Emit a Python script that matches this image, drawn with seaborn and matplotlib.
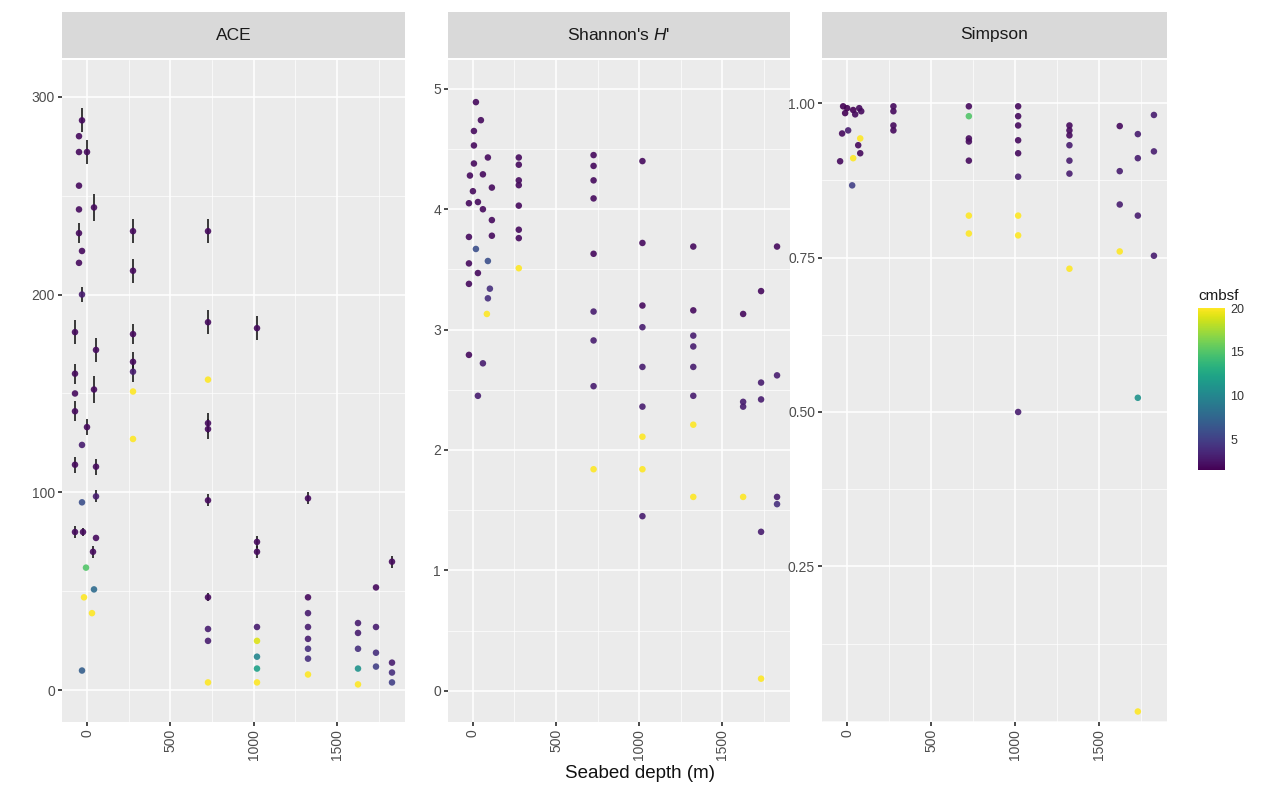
import numpy as np
import pandas as pd
import matplotlib
matplotlib.use('Agg')
import matplotlib.pyplot as plt
import seaborn as sns
from matplotlib.ticker import MultipleLocator, FixedLocator
from matplotlib.colors import Normalize
from matplotlib.cm import ScalarMappable

# ── DATA ─────────────────────────────────────────────────────
# ACE: depth (m), value, standard error, cmbsf
ace_depth = [-30, -48, -48, 0, -48, 42, -48, -48, -30, -48, -30, -72, 54, -72, -72, -72,
             42, 0, -30, -72, 54, -30, 54, -72, -24, 54, 36, -6, 42, 30, -18, -30,
             276, 276, 276, 276, 276, 276, 276,
             726, 726, 726, 726, 726, 726, 726, 726, 726, 726,
             1020, 1020, 1020, 1020, 1020, 1020, 1020, 1020,
             1326, 1326, 1326, 1326, 1326, 1326, 1326, 1326,
             1626, 1626, 1626, 1626, 1626,
             1734, 1734, 1734, 1734,
             1830, 1830, 1830, 1830]
ace_value = [288, 280, 272, 272, 255, 244, 243, 231, 222, 216, 200, 181, 172, 160, 150, 141,
             152, 133, 124, 114, 113, 95, 98, 80, 80, 77, 70, 62, 51, 39, 47, 10,
             232, 212, 180, 166, 161, 151, 127,
             232, 186, 157, 135, 132, 96, 47, 31, 25, 4,
             183, 75, 70, 32, 17, 11, 4, 25,
             97, 47, 39, 32, 26, 21, 16, 8,
             34, 29, 21, 11, 3,
             52, 32, 19, 12,
             65, 14, 9, 4]
ace_err = [6, 0, 0, 6, 0, 7, 0, 5, 0, 0, 4, 6, 6, 5, 0, 5,
           7, 4, 0, 4, 4, 0, 3, 3, 2, 0, 3, 0, 0, 0, 0, 0,
           6, 6, 5, 5, 5, 0, 0,
           6, 6, 0, 5, 5, 3, 2, 0, 0, 0,
           6, 3, 3, 0, 0, 0, 0, 0,
           3, 0, 0, 0, 0, 0, 0, 0,
           0, 0, 0, 0, 0,
           0, 0, 0, 0,
           3, 0, 0, 0]
ace_cmbsf = [2, 2, 2, 2, 2, 2, 2, 2, 2, 2, 3, 2, 2, 2, 2, 2,
             2, 2, 3, 2, 2, 6, 3, 2, 2, 2, 2, 15, 8, 20, 20, 7,
             2, 2, 2, 2, 3, 20, 20,
             2, 2, 20, 2, 2, 2, 2, 3, 3, 20,
             2, 2, 2, 3, 10, 12, 20, 19,
             2, 2, 3, 3, 3, 4, 4, 20,
             3, 3, 4, 11, 20,
             2, 3, 4, 5,
             2, 3, 4, 5]

# Shannon's H'
sha_depth = [18, 48, 6, 6, 6, 90, -18, 60, 0, 114, -24, 30, 60, 114, -24, 114,
             18, 90, -24, 30, -24, 102, 90, 84, -24, 60, 30,
             276, 276, 276, 276, 276, 276, 276, 276,
             726, 726, 726, 726, 726, 726, 726, 726, 726,
             1020, 1020, 1020, 1020, 1020, 1020, 1020, 1020, 1020,
             1326, 1326, 1326, 1326, 1326, 1326, 1326, 1326,
             1626, 1626, 1626, 1626,
             1734, 1734, 1734, 1734, 1734,
             1830, 1830, 1830, 1830]
sha_value = [4.89, 4.74, 4.65, 4.53, 4.38, 4.43, 4.28, 4.29, 4.15, 4.18, 4.05, 4.06, 4.00, 3.91, 3.77, 3.78,
             3.67, 3.57, 3.55, 3.47, 3.38, 3.34, 3.26, 3.13, 2.79, 2.72, 2.45,
             4.43, 4.37, 4.24, 4.20, 4.03, 3.83, 3.76, 3.51,
             4.45, 4.36, 4.24, 4.09, 3.63, 3.15, 2.91, 2.53, 1.84,
             4.40, 3.72, 3.20, 3.02, 2.69, 2.36, 2.11, 1.84, 1.45,
             3.69, 3.16, 2.95, 2.86, 2.69, 2.45, 2.21, 1.61,
             3.13, 2.40, 2.36, 1.61,
             3.32, 2.56, 2.42, 1.32, 0.10,
             3.69, 2.62, 1.61, 1.55]
sha_cmbsf = [2, 2, 2, 2, 2, 2, 2, 2, 2, 2, 2, 2, 2, 2, 2, 2,
             6, 6, 2, 2, 2, 4, 4, 20, 2, 3, 3,
             2, 2, 2, 2, 2, 2, 2, 20,
             2, 2, 2, 2, 2, 3, 3, 3, 20,
             2, 2, 2, 3, 3, 3, 20, 20, 3,
             2, 2, 3, 3, 3, 3, 20, 20,
             2, 3, 3, 20,
             2, 3, 3, 3, 20,
             2, 3, 3, 4]

# Simpson
sim_depth = [-24, 0, 36, 72, -12, 48, 84, -30, 6, -42, 66, 78, 30, 78, 36,
             276, 276, 276, 276,
             726, 726, 726, 726, 726, 726, 726,
             1020, 1020, 1020, 1020, 1020, 1020, 1020, 1020, 1020,
             1326, 1326, 1326, 1326, 1326, 1326, 1326,
             1626, 1626, 1626, 1626,
             1734, 1734, 1734, 1734, 1734,
             1830, 1830, 1830]
sim_value = [0.995, 0.992, 0.989, 0.992, 0.984, 0.982, 0.987, 0.951, 0.956, 0.906, 0.932, 0.919, 0.867, 0.943, 0.911,
             0.995, 0.987, 0.964, 0.956,
             0.995, 0.979, 0.943, 0.938, 0.907, 0.818, 0.789,
             0.995, 0.979, 0.964, 0.940, 0.919, 0.881, 0.818, 0.786, 0.500,
             0.964, 0.956, 0.948, 0.932, 0.907, 0.886, 0.732,
             0.963, 0.890, 0.836, 0.760,
             0.950, 0.911, 0.818, 0.523, 0.015,
             0.981, 0.922, 0.753]
sim_cmbsf = [1, 1, 1, 2, 1, 2, 2, 2, 3, 2, 2, 2, 5, 20, 20,
             2, 2, 2, 2,
             2, 15, 2, 2, 2, 20, 20,
             2, 2, 2, 2, 2, 3, 20, 20, 3,
             2, 2, 2, 3, 3, 3, 20,
             2, 3, 3, 20,
             3, 3, 3, 11, 20,
             3, 3, 3]

panels = [
    ('ACE', pd.DataFrame({'depth': ace_depth, 'value': ace_value, 'err': ace_err, 'cmbsf': ace_cmbsf}),
     (-16, 318.5), [0, 100, 200, 300], 50, '{:.0f}'),
    ("Shannon's $\\mathit{H}$'", pd.DataFrame({'depth': sha_depth, 'value': sha_value, 'cmbsf': sha_cmbsf}),
     (-0.26, 5.24), [0, 1, 2, 3, 4, 5], 0.5, '{:.0f}'),
    ('Simpson', pd.DataFrame({'depth': sim_depth, 'value': sim_value, 'cmbsf': sim_cmbsf}),
     (-0.002, 1.07), [0.25, 0.50, 0.75, 1.00], 0.125, '{:.2f}'),
]

# ── STYLE ────────────────────────────────────────────────────
sns.set_theme(style='darkgrid', rc={
    'axes.facecolor': '#EBEBEB',
    'grid.color': 'white',
    'xtick.color': '#333333',
    'ytick.color': '#333333',
    'xtick.major.size': 3,
    'ytick.major.size': 3,
    'xtick.bottom': True,
    'ytick.left': True,
})
plt.rcParams['font.family'] = ['Liberation Sans', 'DejaVu Sans']
plt.rcParams['mathtext.fontset'] = 'custom'
plt.rcParams['mathtext.it'] = 'Liberation Sans:italic'
plt.rcParams['mathtext.rm'] = 'Liberation Sans'

W, H = 1265, 802
fig = plt.figure(figsize=(W / 100, H / 100), dpi=100)
fig.patch.set_facecolor('white')

norm = Normalize(vmin=1.5, vmax=20)
lefts = [62, 448, 822]
widths = [343, 342, 345]
panel_top, panel_bot = 60, 722
strip_top = 12

for (title, df, ylim, yticks, yminor, fmt), left, width in zip(panels, lefts, widths):
    ax = fig.add_axes([left / W, (H - panel_bot) / H, width / W, (panel_bot - panel_top) / H])
    if 'err' in df:
        eb = df[df['err'] > 0]
        ax.errorbar(eb['depth'], eb['value'], yerr=eb['err'], fmt='none',
                    ecolor='#1a1a1a', elinewidth=1.2, capsize=0, zorder=2)
    sns.scatterplot(data=df, x='depth', y='value', hue='cmbsf', palette='viridis',
                    hue_norm=norm, s=22, alpha=0.9, linewidth=0, legend=False,
                    ax=ax, zorder=3)
    ax.set_xlim(-150, 1908)
    ax.set_ylim(*ylim)
    ax.set_xticks([0, 500, 1000, 1500])
    ax.set_xticklabels(['0', '500', '1000', '1500'], rotation=90)
    ax.xaxis.set_minor_locator(FixedLocator([250, 750, 1250, 1750]))
    ax.set_yticks(yticks)
    ax.set_yticklabels([fmt.format(t) for t in yticks])
    ax.yaxis.set_minor_locator(MultipleLocator(yminor))
    ax.grid(which='major', color='white', linewidth=1.1)
    ax.grid(which='minor', color='white', linewidth=0.5)
    ax.tick_params(which='minor', length=0)
    ax.tick_params(axis='both', labelsize=10, labelcolor='#4D4D4D', pad=2)
    ax.set_xlabel('')
    ax.set_ylabel('')
    for s in ax.spines.values():
        s.set_visible(False)

    # facet strip
    sax = fig.add_axes([left / W, (H - panel_top + 2) / H, width / W, (panel_top - 2 - strip_top) / H])
    sax.set_facecolor('#D9D9D9')
    sax.set_xticks([])
    sax.set_yticks([])
    sax.grid(False)
    for s in sax.spines.values():
        s.set_visible(False)
    sax.text(0.5, 0.5, title, ha='center', va='center', fontsize=12.5, color='#1A1A1A',
             transform=sax.transAxes)

fig.text(0.506, 0.035, 'Seabed depth (m)', ha='center', va='center', fontsize=13.5, color='#111111')

# colour bar
cax = fig.add_axes([1198 / W, (H - 470) / H, 27 / W, 162 / H])
sm = ScalarMappable(norm=norm, cmap='viridis')
cb = fig.colorbar(sm, cax=cax, ticks=[5, 10, 15, 20])
cb.outline.set_visible(False)
cax.tick_params(axis='y', direction='in', color='white', length=5, width=1,
                labelsize=9, labelcolor='#333333', left=True, right=True, pad=4)
cax.grid(False)
cax.set_title('cmbsf', fontsize=11, color='#1A1A1A', loc='left', pad=6)

fig.savefig('out.png', dpi=100)
plt.close()
